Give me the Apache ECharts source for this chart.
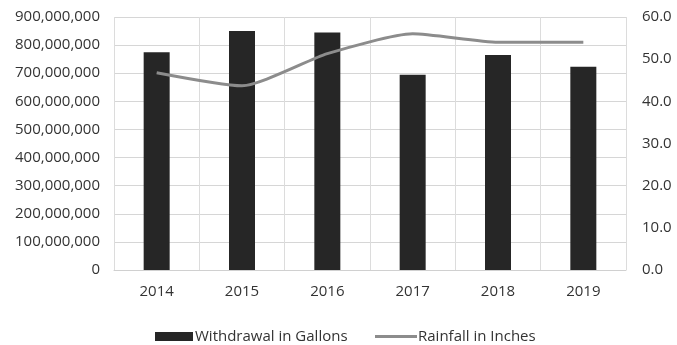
<!DOCTYPE html>
<html><head><meta charset="utf-8">
<script src="https://cdn.jsdelivr.net/npm/echarts@6/dist/echarts.min.js"></script>
<style>html,body{margin:0;padding:0;background:#fff;}#c{width:677px;height:345px;}</style>
</head><body><div id="c"></div>
<script>
const years = ['2014','2015','2016','2017','2018','2019'];
const withdrawal = [775000000, 850000000, 845000000, 695000000, 765000000, 723000000];
const rainfall = [46.8, 43.7, 51.3, 56.0, 54.0, 54.0];
const leftTicks = {min: 0, max: 900000000, interval: 100000000};
const rightTicks = {min: 0, max: 60, interval: 10};

const chart = echarts.init(document.getElementById('c'));
const font = 'Open Sans';
const txt = '#333333';
chart.setOption({
  animation: false,
  backgroundColor: '#fff',
  textStyle: {fontFamily: font},
  grid: {left: 114, right: 51, top: 17, bottom: 75, containLabel: false},
  legend: [{
    top: 324, left: 150,
    itemWidth: 38, itemHeight: 9,
    textStyle: {fontFamily: font, fontSize: 15, color: txt, padding: [0,0,0,-3]},
    data: [{name: 'Withdrawal in Gallons', icon: 'rect'}]
  }, {
    top: 324, left: 370,
    itemWidth: 42, itemHeight: 3,
    textStyle: {fontFamily: font, fontSize: 15, color: txt, padding: [0,0,0,-4]},
    data: [{name: 'Rainfall in Inches', icon: 'rect', itemStyle: {color: '#8c8c8c'}}]
  }],
  xAxis: {
    type: 'category', data: years, boundaryGap: true,
    axisLine: {show: true, lineStyle: {color: '#d0d0d0'}},
    axisTick: {show: false},
    axisLabel: {color: txt, fontSize: 15, margin: 14, fontFamily: font},
    splitLine: {show: true, lineStyle: {color: '#dcdcdc'}}
  },
  yAxis: [{
    type: 'value', min: leftTicks.min, max: leftTicks.max, interval: leftTicks.interval,
    axisLine: {show: false}, axisTick: {show: false},
    axisLabel: {color: txt, fontSize: 15, margin: 14, fontFamily: font,
      formatter: v => v === 0 ? '0' : v.toLocaleString('en-US')},
    splitLine: {show: true, lineStyle: {color: '#d6d6d6'}}
  }, {
    type: 'value', min: rightTicks.min, max: rightTicks.max, interval: rightTicks.interval,
    axisLine: {show: false}, axisTick: {show: false},
    axisLabel: {color: txt, fontSize: 15, margin: 16, fontFamily: font,
      formatter: v => v.toFixed(1)},
    splitLine: {show: false}
  }],
  series: [{
    name: 'Withdrawal in Gallons', type: 'bar', yAxisIndex: 0,
    data: withdrawal, barWidth: 26,
    itemStyle: {color: '#262626'}
  }, {
    name: 'Rainfall in Inches', type: 'line', yAxisIndex: 1,
    data: rainfall, smooth: 0.2, symbol: 'none',
    lineStyle: {color: '#8c8c8c', width: 3},
    itemStyle: {color: '#8c8c8c'}
  }]
});
</script></body></html>
